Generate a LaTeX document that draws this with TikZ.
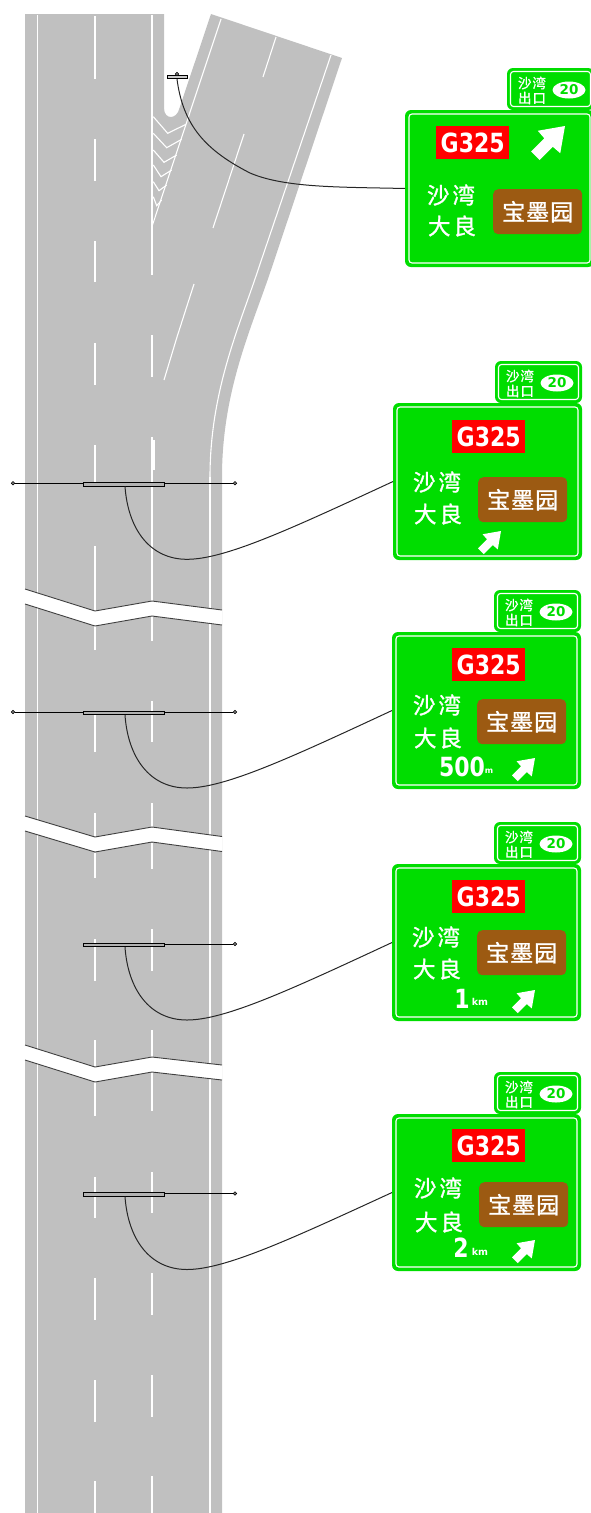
\documentclass[tikz,border=0pt]{standalone}
\usepackage{fontspec}
\usepackage{graphicx}
\newfontfamily\cjk[FakeBold=1.2]{Noto Sans CJK SC}
\newfontfamily\roadfont{DejaVu Sans}
\usetikzlibrary{shapes.geometric}
\definecolor{roadgray}{HTML}{C0C0C0}
\definecolor{signgreen}{HTML}{00DD00}
\definecolor{signbrown}{HTML}{9C5A12}
\definecolor{breakgray}{HTML}{404040}
\tikzset{
	roadline/.style={white,line width=1.5pt},
	thinline/.style={white,line width=1.1pt},
	breakline/.style={breakgray,line width=.9pt},
	wire/.style={black!85,line width=1pt},
	signbody/.style={fill=signgreen,draw=none,rounded corners=6pt,inner sep=0pt,outer sep=0pt,anchor=north west},
	signline/.style={draw=white,line width=1.1pt,rounded corners=3pt,inner sep=0pt},
	routebox/.style={fill=red,inner sep=0pt,anchor=north west,minimum width=73pt,minimum height=33pt,text=white,font=\roadfont\bfseries\fontsize{22}{24}\selectfont},
	scenicbox/.style={fill=signbrown,rounded corners=5pt,inner sep=0pt,anchor=north west,minimum width=89pt,minimum height=45pt,text=white,font=\cjk\fontsize{23}{25}\selectfont},
	placename/.style={text=white,inner sep=0pt,font=\cjk\fontsize{22.5}{24}\selectfont},
	exitname/.style={text=white,inner sep=0pt,font=\cjk\fontsize{13.5}{14}\selectfont},
	exitoval/.style={ellipse,fill=white,inner sep=0pt,minimum width=33pt,minimum height=17pt,text=signgreen,font=\roadfont\bfseries\fontsize{13.5}{14}\selectfont},
	distnum/.style={text=white,inner sep=0pt,font=\roadfont\bfseries\fontsize{22}{24}\selectfont},
	distunit/.style={text=white,inner sep=0pt,font=\roadfont\bfseries\fontsize{9.5}{10}\selectfont},
	board/.style={draw=black,fill=gray!60,line width=.8pt,inner sep=0pt,minimum height=3.4pt},
	pole/.style={circle,draw=black,fill=gray,line width=.6pt,inner sep=0pt,minimum size=3.5pt},
	exitarrow/.pic={
		\fill[white] (1,0) -- (.20,.14) -- (.39,.36) -- (0,.75) -- (.25,1) -- (.64,.61) -- (.86,.80) -- cycle;
	}
}
\begin{document}
\begin{tikzpicture}[x=1pt,y=-1pt]
	\useasboundingbox (0,0) rectangle (591,1513);
	\clip (0,0) rectangle (591,1513);
	% road surface
	\fill[roadgray] (25,14) -- (164,14) -- (164,108) .. controls (164,120) and (177,120) .. (179.5,108)
		-- (211,14) -- (342,58) -- (271,270) .. controls (252,327) and (222,390) .. (222,477)
		-- (222,1513) -- (25,1513) -- cycle;
	\draw[roadline] (37.5,15) -- (37.5,1513);
	\draw[roadline] (152,15) -- (152,275);
	\draw[roadline] (210,477) -- (210,1513);
	\draw[thinline] (331,55) -- (258,270) .. controls (240,325) and (210,390) .. (210,477);
	\draw[thinline] (221,19) -- (152.5,225);
	\draw[thinline] (276,37) -- (263,77);
	\draw[thinline] (244,134) -- (213,228);
	\draw[thinline] (194,284) -- (177,337) -- (164,380);
	\draw[thinline] (154,440) -- (154,470);
	\foreach \a/\b in {16/79,139/181,241/282,343/385,445/487,546/611,625/650,712/752,813/837,853/878,939/981,1040/1067,1081/1116,1177/1218,1278/1320,1380/1422,1481/1513}{
		\draw[roadline] (95,\a) -- (95,\b);
	}
	\foreach \a/\b in {335/377,437/601,615/641,701/742,803/827,843/869,929/971,1030/1057,1071/1111,1172/1213,1273/1315,1375/1417,1476/1513}{
		\draw[roadline] (152,\a) -- (152,\b);
	}
	\foreach \a/\b/\c/\d/\e in {116.7/167.7/133.3/186/124.3,133.3/166.7/147.7/181.7/139.3,150/164/162.3/176.7/155,165/161/176.7/171.7/170,181.7/159/190.7/166.7/185,196.7/156.7/205.7/161.7/200}{
		\draw[thinline] (153.3,\a) -- (\b,\c) -- (\d,\e);
	}
	% breaks in the road
	\foreach \a/\b/\c/\d in {589/611/601/610,816/837/827/836.5,1045/1067/1057/1065}{
		\fill[white] (25,\a) -- (95,\b) -- (152,\c) -- (222,\d) -- (222,\d+15) -- (152,\c+15) -- (95,\b+15) -- (25,\a+15) -- cycle;
		\draw[breakline] (25,\a) -- (95,\b) -- (152,\c) -- (222,\d);
		\draw[breakline] (25,\a+15) -- (95,\b+15) -- (152,\c+15) -- (222,\d+15);
	}
	% signs
	\foreach \n/\sx/\sy/\rx/\ry/\px/\pa/\pb/\bx/\by in {%
		0/405/110/31/16/46/85/116/88/79,%
		1/393/403/59/17/44/79/111/85/74,%
		2/392/632/60/16/45/73/106/85/67,%
		3/392/864/60/16/44/73/105/85/66,%
		4/392/1114/60/15/46/74/108/87/68%
		} {%
		\begin{scope}[shift={(\sx,\sy)}]
			\node[signbody,minimum width=87pt,minimum height=42pt] (panel\n) at (102,-42) {};
			\node[signline,minimum width=80pt,minimum height=35pt] (panelline\n) at (panel\n.center) {};
			\node[exitname] (exita\n) at (127,-27) {沙\kern1pt 湾};
			\node[exitname] (exitb\n) at (127,-12) {出\kern1pt 口};
			\node[exitoval] (oval\n) at (164,-20) {20};
			\node[signbody,minimum width=189pt,minimum height=157pt] (sign\n) at (0,0) {};
			\node[signline,minimum width=181pt,minimum height=149pt] (signline\n) at (sign\n.center) {};
			\node[routebox] (route\n) at (\rx,\ry) {\scalebox{1}[1.2]{G325}};
			\node[placename] (placea\n) at (\px,\pa) {沙\kern3pt 湾};
			\node[placename] (placeb\n) at (\px+1,\pb) {大\kern3pt 良};
			\node[scenicbox] (scenic\n) at (\bx,\by) {宝\kern1pt 墨\kern1pt 园};
		\end{scope}
	}
	\pic[scale=34] at (531,126) {exitarrow};
	\pic[scale=23] at (478,531) {exitarrow};
	\pic[scale=23] at (512,758) {exitarrow};
	\pic[scale=23] at (512,990) {exitarrow};
	\pic[scale=23] at (512,1240) {exitarrow};
	\node[distnum] (dist2) at (462,767) {\scalebox{1}[1.2]{500}};
	\node[distunit,font=\roadfont\bfseries\fontsize{8}{9}\selectfont] (unit2) at (489,771) {m};
	\node[distnum] (dist3) at (462,999) {\scalebox{1}[1.2]{1}};
	\node[distunit] (unit3) at (480,1002) {km};
	\node[distnum] (dist4) at (461,1248) {\scalebox{1}[1.2]{2}};
	\node[distunit] (unit4) at (480,1252) {km};
	% gantries
	\node[board,fill=gray!40,minimum width=20pt] (board0) at (177,77) {};
	\node[pole] (post0) at (177,74) {};
	\draw[wire] (board0.south) .. controls (183,125) and (205,150) .. (250,173) .. controls (285,188) and (340,187) .. (sign0.west);
	\foreach \n/\bary/\hasleft in {1/483.3/1,2/712/1,3/944/0,4/1193.5/0}{
		\node[pole] (right\n) at (235,\bary) {};
		\ifnum\hasleft=1
			\node[pole] (left\n) at (13,\bary) {};
			\draw[black,line width=.8pt] (left\n) -- (right\n);
		\fi
		\node[board,minimum width=81pt] (board\n) at (123.5,\bary+1) {};
		\draw[black,line width=.8pt] (right\n -| board\n.east) -- (right\n);
		\draw[wire] ([xshift=1.5pt]board\n.south) .. controls (128,\bary+46) and (150,\bary+76) .. (187,\bary+76) .. controls (225,\bary+76) and (290,\bary+46) .. (sign\n.west);
	}
\end{tikzpicture}
\end{document}
